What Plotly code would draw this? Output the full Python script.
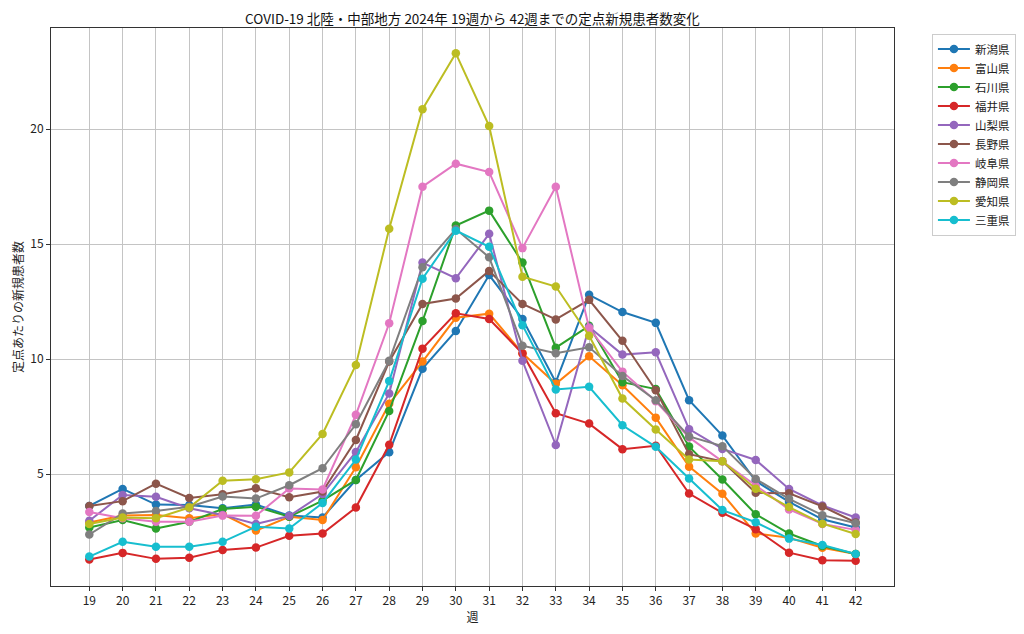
import plotly.graph_objects as go

weeks = list(range(19, 43))

niigata = [3.62, 4.36, 3.68, 3.66, 3.52, 3.68, 3.2, 3.12, 4.75, 5.96, 9.59, 11.23, 13.66, 11.75, 9.0, 12.8, 12.05, 11.58, 8.22, 6.68, 4.7, 3.8, 3.04, 2.68]
toyama = [2.9, 3.2, 3.23, 3.09, 3.27, 2.55, 3.15, 3.01, 5.3, 8.06, 9.9, 11.8, 11.98, 10.26, 8.93, 10.13, 8.87, 7.46, 5.33, 4.15, 2.42, 2.24, 1.8, 1.53]
ishikawa = [2.68, 3.01, 2.64, 2.93, 3.49, 3.59, 3.15, 3.85, 4.75, 7.75, 11.66, 15.81, 16.46, 14.2, 10.5, 11.45, 9.0, 8.7, 6.2, 4.77, 3.26, 2.42, 1.88, 1.53]
fukui = [1.29, 1.58, 1.32, 1.37, 1.71, 1.81, 2.32, 2.42, 3.55, 6.28, 10.46, 12.0, 11.75, 10.25, 7.65, 7.2, 6.09, 6.24, 4.16, 3.32, 2.61, 1.59, 1.26, 1.24]
yamanashi = [2.98, 4.1, 4.02, 3.52, 3.23, 2.84, 3.18, 4.14, 5.97, 8.51, 14.2, 13.52, 15.45, 9.93, 6.27, 11.4, 10.2, 10.3, 6.96, 6.1, 5.62, 4.36, 3.64, 3.12]
nagano = [3.62, 3.83, 4.59, 3.97, 4.13, 4.39, 4.0, 4.25, 6.49, 9.9, 12.4, 12.64, 13.84, 12.4, 11.73, 12.58, 10.8, 8.65, 5.87, 5.56, 4.19, 4.17, 3.6, 2.9]
gifu = [3.36, 3.09, 2.93, 2.93, 3.2, 3.19, 4.38, 4.34, 7.58, 11.56, 17.5, 18.5, 18.14, 14.83, 17.5, 11.35, 9.46, 8.17, 6.6, 5.56, 4.5, 3.47, 2.84, 2.58]
shizuoka = [2.38, 3.29, 3.4, 3.59, 4.03, 3.94, 4.52, 5.26, 7.17, 9.93, 14.0, 15.66, 14.43, 10.59, 10.26, 10.52, 9.27, 8.22, 6.64, 6.22, 4.79, 3.93, 3.22, 2.87]
aichi = [2.84, 3.12, 3.09, 3.55, 4.72, 4.78, 5.08, 6.75, 9.75, 15.67, 20.87, 23.3, 20.14, 13.59, 13.16, 11.02, 8.29, 6.94, 5.64, 5.56, 4.37, 3.57, 2.85, 2.4]
mie = [1.42, 2.06, 1.85, 1.85, 2.06, 2.72, 2.64, 3.75, 5.64, 9.05, 13.5, 15.59, 14.89, 11.48, 8.68, 8.8, 7.13, 6.19, 4.81, 3.44, 2.91, 2.2, 1.92, 1.53]

names = ["新潟県", "富山県", "石川県", "福井県", "山梨県", "長野県", "岐阜県", "静岡県", "愛知県", "三重県"]
series = [niigata, toyama, ishikawa, fukui, yamanashi, nagano, gifu, shizuoka, aichi, mie]
colors = ["#1f77b4", "#ff7f0e", "#2ca02c", "#d62728", "#9467bd",
          "#8c564b", "#e377c2", "#7f7f7f", "#bcbd22", "#17becf"]
yticks = [5, 10, 15, 20]

FONT = "Noto Sans CJK JP, Noto Sans, DejaVu Sans, sans-serif"

fig = go.Figure()
for name, vals, c in zip(names, series, colors):
    fig.add_trace(go.Scatter(
        x=weeks, y=vals, name=name, mode="lines+markers",
        line=dict(color=c, width=2),
        marker=dict(color=c, size=8.5),
    ))

fig.update_layout(
    width=1024, height=634,
    margin=dict(l=43, r=138, t=20, b=56, autoexpand=False),
    paper_bgcolor="white", plot_bgcolor="white",
    font=dict(family=FONT, size=12, color="#222222"),
    title=dict(text="COVID-19 北陸・中部地方 2024年 19週から 42週までの定点新規患者数変化",
               x=(43 + 886) / 2 / 1024, xanchor="center", y=0.982, yanchor="middle",
               font=dict(size=13.5, color="#111111")),
    showlegend=True,
    legend=dict(x=1.045, xanchor="left", y=0.99, yanchor="top",
                bordercolor="#cccccc", borderwidth=1, bgcolor="white",
                font=dict(size=11.5), tracegroupgap=0, itemwidth=32),
)
fig.update_xaxes(
    range=[17.85, 43.15], tickmode="array", tickvals=weeks,
    ticktext=[str(w) for w in weeks],
    showgrid=True, gridcolor="#c4c4c4", gridwidth=1,
    showline=True, linecolor="#333333", linewidth=1, mirror=True,
    ticks="outside", ticklen=4, tickcolor="#333333",
    zeroline=False, automargin=False,
    title=dict(text="週", font=dict(size=12), standoff=6),
)
fig.update_yaxes(
    range=[0.14, 24.4], tickmode="array", tickvals=yticks,
    showgrid=True, gridcolor="#c4c4c4", gridwidth=1,
    showline=True, linecolor="#333333", linewidth=1, mirror=True,
    ticks="outside", ticklen=4, tickcolor="#333333",
    zeroline=False, automargin=False,
    title=dict(text="定点あたりの新規患者数", font=dict(size=12), standoff=4),
)

fig.write_html("out.html")
